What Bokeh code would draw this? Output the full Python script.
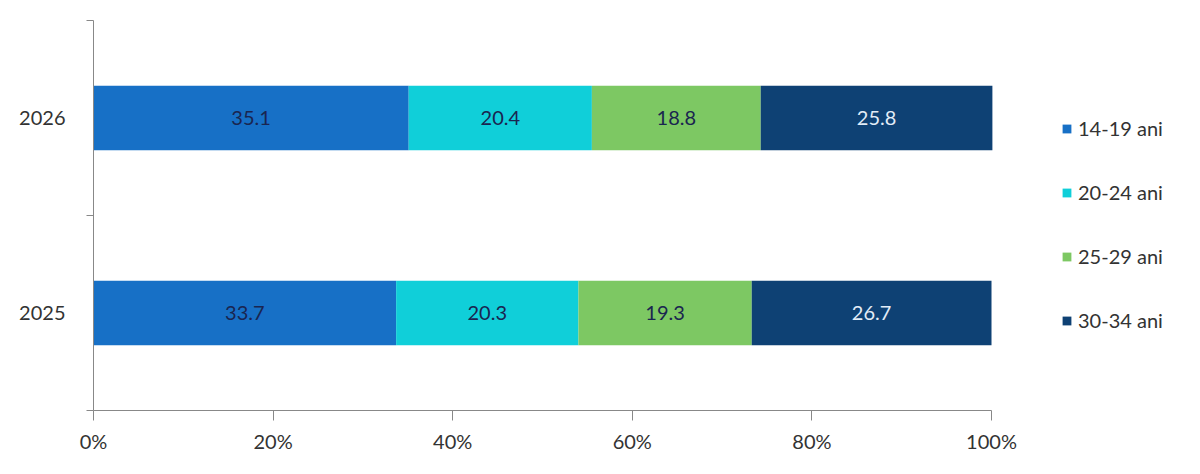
import numpy as np
from bokeh.plotting import figure
from bokeh.models import (ColumnDataSource, Range1d, FixedTicker, PrintfTickFormatter,
                          Legend, LegendItem)
from bokeh.core.properties import value
from bokeh.embed import file_html
from bokeh.resources import INLINE

years = ["2025", "2026"]
groups = ["14-19 ani", "20-24 ani", "25-29 ani", "30-34 ani"]
s_14_19 = [33.7, 35.1]
s_20_24 = [20.3, 20.4]
s_25_29 = [19.3, 18.8]
s_30_34 = [26.7, 25.8]
x_ticks = [0, 20, 40, 60, 80, 100]

colors = ["#1770C6", "#10CFD9", "#7DC863", "#0E4174"]
label_colors = ["#1a2550", "#1a2550", "#1a2550", "#e2ecf7"]
FONT = "Lato"
FS = "20px"

# layout geometry (pixels)
W, H = 1184, 458
LEFT, TOP, BOTTOM = 93, 20, 48
AXIS_END_PX = 991  # pixel where 100% lies
frame_w = W - LEFT
x_end = 100 * frame_w / (AXIS_END_PX - LEFT)

series = [s_14_19, s_20_24, s_25_29, s_30_34]
ypos = [i + 0.5 for i in range(len(years))]

p = figure(width=W, height=H, output_backend="svg", toolbar_location=None,
           x_range=Range1d(0, x_end), y_range=Range1d(0, len(years)),
           min_border_left=LEFT, min_border_right=0, min_border_top=TOP, min_border_bottom=BOTTOM)
p.outline_line_color = None
p.xgrid.visible = False
p.ygrid.visible = False

data = {"y": ypos}
for g, s in zip(groups, series):
    data[g] = s
src = ColumnDataSource(data)

renderers = p.hbar_stack(groups, y="y", height=0.33, color=colors, source=src, line_color=None)

# value labels
arr = np.array(series)
cum = np.cumsum(arr, axis=0)
mids = cum - arr / 2
for i, s in enumerate(series):
    p.text(x=list(mids[i]), y=ypos, text=[f"{v:.1f}" for v in s],
           text_align="center", text_baseline="middle", text_font=value(FONT),
           text_font_size=FS, text_color=label_colors[i])

# x axis
xa = p.xaxis[0]
xa.bounds = (0, 100)
xa.ticker = FixedTicker(ticks=x_ticks, minor_ticks=[])
xa.formatter = PrintfTickFormatter(format="%d%%")
xa.axis_line_color = "#888888"
xa.major_tick_line_color = "#888888"
xa.major_tick_out = 10
xa.major_tick_in = 0
xa.minor_tick_line_color = None
xa.major_label_text_font = FONT
xa.major_label_text_font_size = FS
xa.major_label_text_color = "#333333"
xa.major_label_standoff = 8

# y axis
ya = p.yaxis[0]
ya.ticker = FixedTicker(ticks=ypos, minor_ticks=[0, 1, 2])
ya.major_label_overrides = {y: lab for y, lab in zip(ypos, years)}
ya.axis_line_color = "#888888"
ya.major_tick_line_color = None
ya.major_tick_out = 0
ya.major_tick_in = 0
ya.minor_tick_line_color = "#888888"
ya.minor_tick_out = 7
ya.minor_tick_in = 0
ya.major_label_text_font = FONT
ya.major_label_text_font_size = FS
ya.major_label_text_color = "#333333"
ya.major_label_standoff = 21

legend = Legend(items=[LegendItem(label=g, renderers=[r]) for g, r in zip(groups, renderers)],
                location=(968, 78), orientation="vertical",
                glyph_width=11, glyph_height=11, label_height=24, spacing=40,
                label_standoff=6, padding=0, margin=0,
                border_line_color=None, background_fill_alpha=0,
                label_text_font=FONT, label_text_font_size=FS, label_text_color="#333333")
p.add_layout(legend, "center")

open("out.html", "w").write(file_html(p, INLINE))
